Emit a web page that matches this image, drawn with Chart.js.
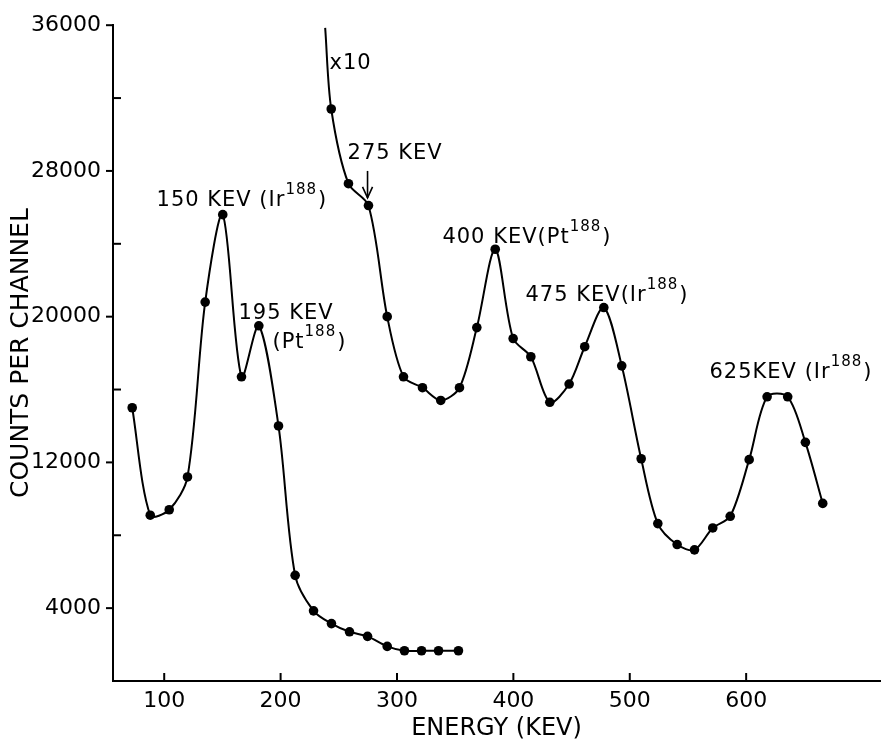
<!DOCTYPE html>
<html><head><meta charset="utf-8">
<script src="https://cdn.jsdelivr.net/npm/chart.js@4.4.1/dist/chart.umd.min.js"></script>
<style>html,body{margin:0;padding:0;background:#fff;} #wrap{width:893px;height:745px;position:relative;}</style>
</head><body><div id="wrap"><canvas id="c"></canvas></div>
<script>
// ---- data ----
const lowEnergy = [72.5, 88.0, 104.3, 120.0, 135.2, 150.3, 166.4, 181.3, 198.2, 212.5, 228.3, 243.7, 259.2, 274.7, 291.6, 306.4, 321.1, 335.7, 352.8];
const lowCounts = [15000, 9100, 9400, 11200, 20800, 25600, 16700, 19500, 14000, 5800, 3850, 3150, 2700, 2450, 1900, 1660, 1660, 1660, 1660];
const highEnergy = [238.3, 243.5, 258.3, 275.5, 291.6, 305.6, 321.9, 337.6, 353.7, 368.6, 384.4, 399.8, 415.0, 431.3, 447.9, 461.3, 477.7, 493.1, 509.8, 524.1, 540.7, 555.6, 571.3, 586.3, 602.6, 618.0, 635.7, 650.9, 665.8];
const highCounts = [35850, 31400, 27300, 26100, 20000, 16700, 16100, 15400, 16100, 19400, 23700, 18800, 17800, 15300, 16300, 18350, 20500, 17300, 12200, 8640, 7490, 7200, 8400, 9040, 12150, 15600, 15600, 13100, 9750];
const xTickValues = [100, 200, 300, 400, 500, 600];
const yTickValues = [4000, 8000, 12000, 16000, 20000, 24000, 28000, 32000, 36000];
const yTickLabels = [4000, 12000, 20000, 28000, 36000];
const xTitle = 'ENERGY (KEV)';
const yTitle = 'COUNTS PER CHANNEL';
// peak annotations: text parts ([text, isSuperscript]) and their anchor in data units (keV, counts)
const labelParts = [
  [['150 KEV (Ir', 0], ['188', 1], [')', 0]],
  [['195 KEV', 0]],
  [['(Pt', 0], ['188', 1], [')', 0]],
  [['x10', 0]],
  [['275 KEV', 0]],
  [['400 KEV(Pt', 0], ['188', 1], [')', 0]],
  [['475 KEV(Ir', 0], ['188', 1], [')', 0]],
  [['625KEV (Ir', 0], ['188', 1], [')', 0]]
];
const labelKeV = [93.4, 163.8, 193.0, 242.0, 257.5, 339.0, 410.4, 568.5];
const labelCounts = [26080, 19890, 18300, 33590, 28655, 24050, 20875, 16656];
const arrowKeV = 274.7;
const arrowCounts = [28000, 26520];

const toPts = (xs, ys) => xs.map((x, i) => ({x: x, y: ys[i]}));
const FONT = '"DejaVu Sans", sans-serif';

const decor = {
  id: 'decor',
  afterDatasetsDraw(chart) {
    const {ctx, scales: {x, y}} = chart;
    ctx.save();
    ctx.strokeStyle = '#000';
    ctx.fillStyle = '#000';
    ctx.lineWidth = 2;
    const ay = y.getPixelForValue(0);
    const ax = x.left;
    // x ticks pointing up into the plot
    xTickValues.forEach(v => {
      const px = x.getPixelForValue(v);
      ctx.beginPath(); ctx.moveTo(px, ay); ctx.lineTo(px, ay - 8); ctx.stroke();
    });
    // y ticks: labelled ones outside, others inside
    yTickValues.forEach(v => {
      const py = y.getPixelForValue(v);
      ctx.beginPath();
      if (yTickLabels.includes(v)) { ctx.moveTo(ax - 7, py); ctx.lineTo(ax, py); }
      else { ctx.moveTo(ax, py); ctx.lineTo(ax + 8, py); }
      ctx.stroke();
    });
    // annotations
    ctx.textBaseline = 'alphabetic';
    ctx.textAlign = 'left';
    if ('letterSpacing' in ctx) ctx.letterSpacing = '1px';
    labelParts.forEach((parts, i) => {
      let px = x.getPixelForValue(labelKeV[i]);
      const py = y.getPixelForValue(labelCounts[i]);
      parts.forEach(([t, sup]) => {
        ctx.font = (sup ? '15px ' : '21px ') + FONT;
        ctx.fillText(t, px, sup ? py - 12 : py);
        px += ctx.measureText(t).width + (sup ? 1 : 0);
      });
    });
    if ('letterSpacing' in ctx) ctx.letterSpacing = '0px';
    // arrow at 275 keV
    const axp = x.getPixelForValue(arrowKeV);
    const y1 = y.getPixelForValue(arrowCounts[0]);
    const y2 = y.getPixelForValue(arrowCounts[1]);
    ctx.lineWidth = 1.6;
    ctx.beginPath(); ctx.moveTo(axp, y1); ctx.lineTo(axp, y2); ctx.stroke();
    ctx.beginPath(); ctx.moveTo(axp - 5, y2 - 11); ctx.lineTo(axp, y2); ctx.lineTo(axp + 5, y2 - 11); ctx.stroke();
    ctx.restore();
  }
};

const lineStyle = {
  borderColor: '#000', backgroundColor: '#000', borderWidth: 2,
  pointBackgroundColor: '#000', pointBorderColor: '#000', pointBorderWidth: 0,
  tension: 0.3, fill: false
};

new Chart(document.getElementById('c'), {
  type: 'line',
  data: {
    datasets: [
      Object.assign({label: 'counts', data: toPts(lowEnergy, lowCounts), pointRadius: 4.8}, lineStyle),
      Object.assign({label: 'counts x10', data: toPts(highEnergy, highCounts),
        pointRadius: c => c.dataIndex === 0 ? 0 : 4.8}, lineStyle)
    ]
  },
  options: {
    responsive: true, maintainAspectRatio: false, animation: false,
    layout: {padding: {top: 24, right: 13, left: 0, bottom: 0}},
    plugins: {legend: {display: false}, tooltip: {enabled: false}},
    scales: {
      x: {
        type: 'linear', min: 56, max: 715,
        afterBuildTicks: s => { s.ticks = xTickValues.map(v => ({value: v})); },
        afterFit: s => { s.height = 64; },
        grid: {display: false, drawTicks: false},
        border: {display: true, color: '#000', width: 2},
        ticks: {color: '#000', padding: 7, font: {family: FONT, size: 22}, callback: v => String(v)},
        title: {display: true, text: xTitle, color: '#000', font: {family: FONT, size: 24}, padding: {top: 0, bottom: 2}}
      },
      y: {
        type: 'linear', min: 0, max: 36000,
        afterBuildTicks: s => { s.ticks = yTickValues.map(v => ({value: v})); },
        afterFit: s => { s.width = 113; },
        grid: {display: false, drawTicks: false},
        border: {display: true, color: '#000', width: 2},
        ticks: {color: '#000', padding: 12, font: {family: FONT, size: 22},
          callback: v => yTickLabels.includes(v) ? String(v) : ''},
        title: {display: true, text: yTitle, color: '#000', font: {family: FONT, size: 25}, padding: {top: 6, bottom: 0}}
      }
    }
  },
  plugins: [decor]
});
</script>
</body></html>
